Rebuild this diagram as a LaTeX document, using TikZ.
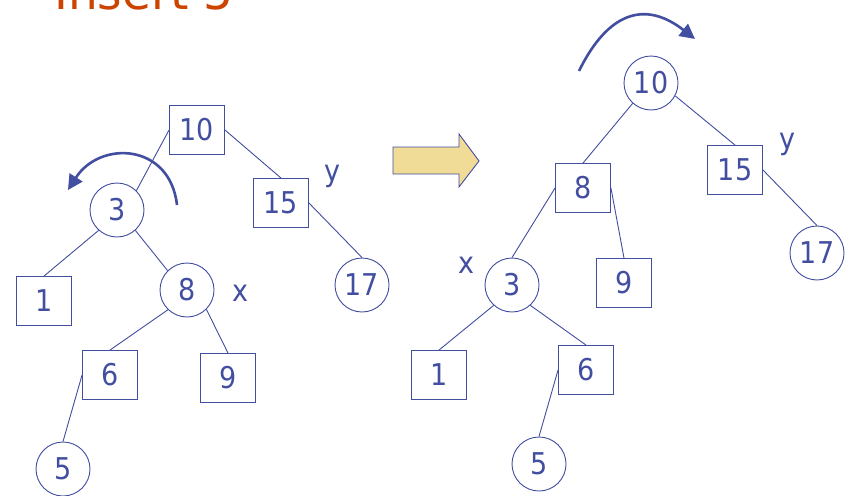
\documentclass[tikz,border=0pt]{standalone}
\usepackage{fontspec}
\setmainfont{DejaVu Sans}
\newfontfamily\keyfont{DejaVu Sans Condensed}
\usetikzlibrary{arrows.meta}
\definecolor{treeblue}{RGB}{66,78,160}
\definecolor{titleorange}{RGB}{204,68,0}
\definecolor{arrowfill}{RGB}{240,220,150}
\tikzset{
  keybox/.style={draw=treeblue, line width=0.9pt, minimum width=55pt, minimum height=49pt,
    inner sep=0pt, text=treeblue, font=\keyfont\fontsize{30}{30}\selectfont},
  keycirc/.style={circle, draw=treeblue, line width=0.9pt, minimum size=54pt,
    inner sep=0pt, text=treeblue, font=\keyfont\fontsize{30}{30}\selectfont},
  tag/.style={text=treeblue, inner sep=0pt, font=\keyfont\fontsize{30}{30}\selectfont},
  edge/.style={draw=treeblue, line width=0.9pt},
  turn/.style={draw=treeblue, line width=2.6pt, -{Triangle[length=15pt,width=15pt]}},
}
\begin{document}
\begin{tikzpicture}[x=1pt,y=-1pt]
\clip (0,0) rectangle (848,495);
\fill[white] (0,0) rectangle (848,495);

% title
\node[anchor=base west, inner sep=0pt, text=titleorange,
      font=\fontsize{47}{47}\selectfont] (title) at (54,10) {Insert 5};

% tree before the rotation
\node[keybox]  (a10) at (197,130) {10};
\node[keycirc] (a3)  at (117,210) {3};
\node[keybox]  (a1)  at (44,301)  {1};
\node[keycirc] (a8)  at (187,290) {8};
\node[keybox]  (a6)  at (110,375) {6};
\node[keybox]  (a9)  at (228,378) {9};
\node[keycirc] (a5)  at (63,469)  {5};
\node[keybox]  (a15) at (281,203) {15};
\node[keycirc] (a17) at (362,285) {17};
\node[tag] (ax) at (240,293) {x};
\node[tag] (ay) at (332,176) {y};

\draw[edge] (a10.west) -- (a3.45);
\draw[edge] (a10.east) -- (a15.north);
\draw[edge] (a3.228) -- (a1.north);
\draw[edge] (a3.-48) -- (a8.135);
\draw[edge] (a8.226) -- (a6.north);
\draw[edge] (a8.-45) -- (a9.north);
\draw[edge] (a6.west) -- (a5.north);
\draw[edge] (a15.east) -- (a17.north);

\coordinate (ta) at (177,205);
\coordinate (tb) at (68,190);
\draw[turn] (ta) .. controls (170,143) and (100,140) .. (tb);

% transition arrow
\draw[draw=treeblue, line width=0.9pt, fill=arrowfill]
  (393,147) -- (459,147) -- (459,134) -- (479,161) -- (459,187) -- (459,174) -- (393,174) -- cycle;

% tree after the rotation
\node[keycirc] (b10) at (651,83)  {10};
\node[keybox]  (b8)  at (583,188) {8};
\node[keybox]  (b15) at (735,170) {15};
\node[keycirc] (b17) at (817,253) {17};
\node[keycirc] (b3)  at (512,285) {3};
\node[keybox]  (b9)  at (624,283) {9};
\node[keybox]  (b1)  at (439,375) {1};
\node[keybox]  (b6)  at (586,370) {6};
\node[keycirc] (b5)  at (539,464) {5};
\node[tag] (bx) at (466,265) {x};
\node[tag] (by) at (787,144) {y};

\draw[edge] (b10.228) -- (b8.north);
\draw[edge] (b10.-28) -- (b15.north);
\draw[edge] (b15.east) -- (b17.north);
\draw[edge] (b8.west) -- (b3.north);
\draw[edge] (b8.east) -- (b9.north);
\draw[edge] (b3.228) -- (b1.north);
\draw[edge] (b3.-48) -- (b6.north);
\draw[edge] (b6.west) -- (b5.north);

\coordinate (tc) at (579,71);
\coordinate (td) at (695,39);
\draw[turn] (tc) .. controls (608,12) and (645,0) .. (td);
\end{tikzpicture}
\end{document}
